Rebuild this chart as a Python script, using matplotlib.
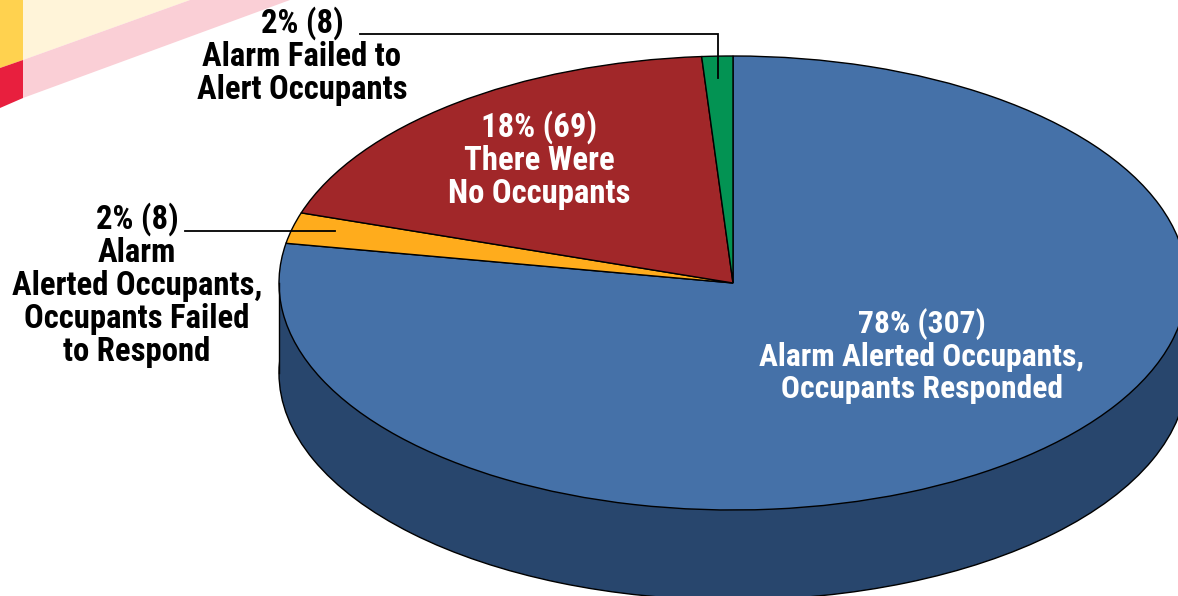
import matplotlib
matplotlib.use('Agg')
import matplotlib.pyplot as plt
from matplotlib.lines import Line2D
from matplotlib.patches import Polygon, Rectangle

W, H = 1178, 596

# share of the drawn ellipse, clockwise from 12 o'clock
slice_names = ['Responded', 'Failed to Respond', 'No Occupants', 'Failed to Alert']
slice_shares = [77.8, 2.2, 18.9, 1.1]
slice_colors = ['#4571A8', '#FFAC1C', '#A12729', '#039353']

label_blue = '78% (307)\nAlarm Alerted Occupants,\nOccupants Responded'
label_red = '18% (69)\nThere Were\nNo Occupants'
label_green = '2% (8)\nAlarm Failed to\nAlert Occupants'
label_orange = '2% (8)\nAlarm\nAlerted Occupants,\nOccupants Failed\nto Respond'

FONT = ['Roboto Condensed', 'Liberation Sans', 'DejaVu Sans']

# pie centre and radii in pixels
CX, CY, RX, RY = 733, 283, 454, 227
DEPTH = 90


def fx(x):
    return x / W


def fy(y):
    return 1 - y / H


def corner(points, color):
    fig.patches.append(Polygon([(fx(x), fy(y)) for x, y in points], closed=True,
                               transform=fig.transFigure, facecolor=color, edgecolor='none'))


def leader(xs, ys):
    fig.add_artist(Line2D([fx(x) for x in xs], [fy(y) for y in ys], color='black', lw=1.3,
                          transform=fig.transFigure, solid_joinstyle='miter', zorder=5))


def label(x, y, s, color, size=23.6, spacing=1.04):
    fig.text(fx(x), fy(y), s, color=color, ha='center', va='center', family=FONT,
             fontweight='bold', fontsize=size, linespacing=spacing, zorder=6)


fig = plt.figure(figsize=(W / 100, H / 100), dpi=100)
ax = fig.add_axes([0, 0, 1, 1])

# side wall: same ellipse moved down, joined by a band
d = DEPTH / RY
ax.pie([1], colors=['#28466D'], center=(0, -d), radius=1,
       wedgeprops={'edgecolor': 'black', 'linewidth': 1.0})
ax.add_patch(Rectangle((-1, -d), 2, d, facecolor='#28466D', edgecolor='none'))
ax.plot([-1, -1], [0, -d], color='black', lw=1.0)

ax.pie(slice_shares, colors=slice_colors, startangle=90, counterclock=False, radius=1,
       wedgeprops={'edgecolor': 'black', 'linewidth': 1.0})

ax.set_aspect('auto')
ax.set_xlim(-CX / RX, (W - CX) / RX)
ax.set_ylim(-(H - CY) / RY, CY / RY)
ax.axis('off')

corner([(0, 0), (23, 0), (23, 60), (0, 68)], '#FFD24F')
corner([(0, 68), (23, 60), (23, 98), (0, 108)], '#E81F3E')
corner([(23, 0), (190, 0), (23, 60)], '#FFF4D9')
corner([(190, 0), (290, 0), (23, 98), (23, 60)], '#FACFD6')

leader([360, 718, 718], [34, 34, 78])
leader([185, 335], [231, 231])

label(922, 356, label_blue, 'white', size=22.8, spacing=1.085)
label(539, 160, label_red, 'white')
label(302, 56, label_green, 'black')
label(137, 285, label_orange, 'black')

fig.savefig('out.png', dpi=100)
